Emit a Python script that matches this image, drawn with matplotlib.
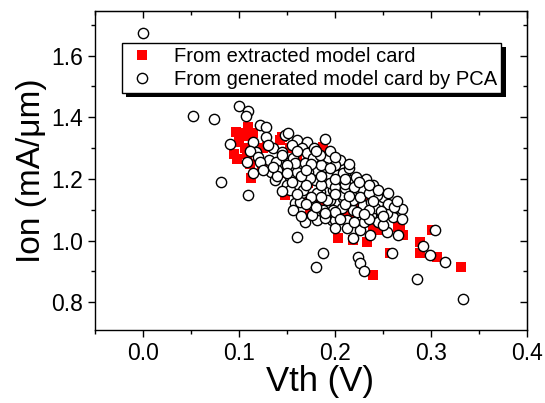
import matplotlib
matplotlib.use("Agg")
import matplotlib.pyplot as plt
from matplotlib.ticker import MultipleLocator, FormatStrFormatter
import matplotlib.patheffects as pe

plt.rcParams['font.family'] = ['Liberation Sans', 'DejaVu Sans']

# red squares: from extracted model card
ext_vth = [0.097, 0.103, 0.109, 0.110, 0.100, 0.106, 0.095, 0.098, 0.108, 0.112,
           0.113, 0.115, 0.125, 0.124, 0.129, 0.143, 0.145, 0.153, 0.143, 0.148,
           0.172, 0.174, 0.172, 0.1875, 0.200, 0.223, 0.203, 0.219, 0.233, 0.240,
           0.257, 0.271, 0.289, 0.289, 0.301, 0.306, 0.331, 0.247, 0.268, 0.250,
           0.257, 0.266, 0.247, 0.160, 0.190, 0.210, 0.230, 0.260, 0.185, 0.205,
           0.215, 0.240]
ext_ion = [1.352, 1.350, 1.370, 1.340, 1.320, 1.300, 1.280, 1.265, 1.280, 1.250,
           1.203, 1.348, 1.300, 1.245, 1.303, 1.326, 1.335, 1.300, 1.220, 1.148,
           1.142, 1.090, 1.187, 1.303, 1.229, 1.126, 1.010, 1.003, 0.994, 0.887,
           0.961, 1.019, 0.997, 0.961, 1.035, 0.948, 0.913, 1.052, 1.042, 1.094,
           1.090, 1.045, 1.035, 1.270, 1.200, 1.160, 1.130, 1.110, 1.120, 1.090,
           1.080, 1.040]

# open circles: generated model card by PCA
gen_vth = [0.000, 0.052, 0.074, 0.100, 0.110, 0.107, 0.091, 0.081, 0.109, 0.115,
           0.115, 0.122, 0.128, 0.128, 0.118, 0.112, 0.108, 0.120, 0.131, 0.136,
           0.133, 0.139, 0.138, 0.145, 0.148, 0.151, 0.160, 0.171, 0.166, 0.151,
           0.156, 0.171, 0.164, 0.172, 0.153, 0.150, 0.166, 0.158, 0.156, 0.169,
           0.181, 0.1875, 0.177, 0.184, 0.179, 0.184, 0.182, 0.193, 0.190, 0.195,
           0.1875, 0.198, 0.195, 0.198, 0.197, 0.207, 0.208, 0.205, 0.210, 0.216,
           0.218, 0.216, 0.219, 0.2125, 0.161, 0.1875, 0.180, 0.200, 0.2125, 0.219,
           0.224, 0.226, 0.230, 0.236, 0.240, 0.254, 0.259, 0.266, 0.270, 0.259,
           0.285, 0.292, 0.299, 0.304, 0.315, 0.333, 0.260, 0.226, 0.238, 0.245,
           0.250, 0.229, 0.223, 0.219, 0.226, 0.244, 0.254, 0.202, 0.208, 0.219,
           0.228, 0.226, 0.238, 0.200, 0.190, 0.176, 0.164, 0.153, 0.167, 0.181,
           0.1917, 0.195, 0.186, 0.174, 0.161, 0.158, 0.169, 0.186, 0.177, 0.184,
           0.145, 0.122, 0.150, 0.200, 0.208, 0.242, 0.205, 0.215, 0.232, 0.240,
           0.255, 0.262, 0.235, 0.210, 0.230, 0.245, 0.250, 0.175, 0.165, 0.200,
           0.210, 0.140, 0.130, 0.155, 0.200, 0.222, 0.235, 0.248, 0.178, 0.195,
           0.140, 0.155, 0.170, 0.165, 0.185, 0.200, 0.210, 0.220, 0.235, 0.245,
           0.255, 0.265, 0.270, 0.250, 0.235, 0.220, 0.205, 0.190, 0.180, 0.170,
           0.160, 0.145, 0.135, 0.175, 0.195, 0.210, 0.225, 0.240, 0.230, 0.215,
           0.200, 0.185, 0.170, 0.150, 0.125, 0.160, 0.180, 0.200, 0.215, 0.190]
gen_ion = [1.672, 1.403, 1.394, 1.438, 1.420, 1.405, 1.313, 1.190, 1.147, 1.220,
           1.320, 1.375, 1.370, 1.335, 1.287, 1.292, 1.255, 1.270, 1.260, 1.300,
           1.223, 1.255, 1.197, 1.287, 1.342, 1.348, 1.326, 1.320, 1.300, 1.252,
           1.268, 1.284, 1.239, 1.223, 1.206, 1.180, 1.155, 1.123, 1.100, 1.061,
           1.068, 1.100, 1.116, 1.158, 1.197, 1.252, 1.277, 1.268, 1.239, 1.213,
           1.187, 1.165, 1.132, 1.100, 1.068, 1.106, 1.139, 1.197, 1.219, 1.197,
           1.158, 1.123, 1.100, 1.068, 1.013, 0.961, 0.913, 1.068, 1.042, 1.010,
           0.948, 0.929, 0.900, 1.019, 1.074, 1.029, 0.961, 1.019, 1.103, 1.084,
           0.874, 0.984, 0.955, 1.035, 0.932, 0.810, 1.077, 1.035, 1.084, 1.123,
           1.142, 1.116, 1.094, 1.132, 1.165, 1.148, 1.090, 1.213, 1.219, 1.190,
           1.171, 1.142, 1.126, 1.094, 1.074, 1.084, 1.126, 1.165, 1.165, 1.155,
           1.132, 1.187, 1.180, 1.203, 1.223, 1.252, 1.252, 1.245, 1.268, 1.277,
           1.277, 1.255, 1.245, 1.174, 1.148, 1.106, 1.260, 1.235, 1.200, 1.180,
           1.120, 1.110, 1.155, 1.170, 1.060, 1.060, 1.050, 1.140, 1.080, 1.040,
           1.120, 1.230, 1.310, 1.310, 1.245, 1.205, 1.100, 1.095, 1.300, 1.290,
           1.210, 1.190, 1.180, 1.210, 1.210, 1.200, 1.185, 1.175, 1.180, 1.165,
           1.155, 1.130, 1.070, 1.080, 1.070, 1.060, 1.070, 1.090, 1.110, 1.120,
           1.150, 1.160, 1.240, 1.250, 1.235, 1.200, 1.190, 1.130, 1.085, 1.145,
           1.150, 1.140, 1.230, 1.220, 1.230, 1.290, 1.290, 1.270, 1.250, 1.330]

fig = plt.figure(figsize=(5.45, 4.03), dpi=100)
ax = fig.add_axes([0.174, 0.181, 0.793, 0.792])

ax.plot(ext_vth, ext_ion, linestyle='none', marker='s', ms=6.5,
        mfc='#ff0000', mec='#ff0000', mew=0, label='From extracted model card')
ax.plot(gen_vth, gen_ion, linestyle='none', marker='o', ms=7.4,
        mfc='white', mec='black', mew=1.0, label='From generated model card by PCA')

ax.set_xlim(-0.05, 0.4)
ax.set_ylim(0.71, 1.745)
ax.xaxis.set_major_locator(MultipleLocator(0.1))
ax.xaxis.set_minor_locator(MultipleLocator(0.05))
ax.yaxis.set_major_locator(MultipleLocator(0.2))
ax.yaxis.set_minor_locator(MultipleLocator(0.1))
ax.xaxis.set_major_formatter(FormatStrFormatter('%.1f'))
ax.yaxis.set_major_formatter(FormatStrFormatter('%.1f'))

ax.tick_params(which='both', direction='out', labelsize=16.5, width=1,
               top=False, right=False)
ax.tick_params(which='major', length=5)
ax.tick_params(which='minor', length=3)
for s in ax.spines.values():
    s.set_linewidth(1)

# mirrored axes with inward ticks
top = ax.secondary_xaxis('top')
top.xaxis.set_major_locator(MultipleLocator(0.1))
top.xaxis.set_minor_locator(MultipleLocator(0.05))
top.tick_params(which='both', direction='in', labeltop=False, width=1)
top.tick_params(which='major', length=5)
top.tick_params(which='minor', length=3)
right = ax.secondary_yaxis('right')
right.yaxis.set_major_locator(MultipleLocator(0.2))
right.yaxis.set_minor_locator(MultipleLocator(0.1))
right.tick_params(which='both', direction='in', labelright=False, width=1)
right.tick_params(which='major', length=5)
right.tick_params(which='minor', length=3)

ax.set_xlabel('Vth (V)', fontsize=25, labelpad=0)
ax.xaxis.label.set_x(0.522)
ax.set_ylabel('Ion (mA/\u03bcm)', fontsize=24, labelpad=3)

leg = ax.legend(loc='upper left', bbox_to_anchor=(0.0625, 0.9), fontsize=14.5,
                frameon=True, fancybox=False, framealpha=1, edgecolor='black',
                borderpad=0.2, handletextpad=0.8, handlelength=1.6,
                labelspacing=0.2, borderaxespad=0)
leg.get_frame().set_linewidth(1)
leg.get_frame().set_path_effects([
    pe.SimplePatchShadow(offset=(3, -3), shadow_rgbFace='black', alpha=1),
    pe.Normal()])

fig.savefig('out.png', dpi=100)
